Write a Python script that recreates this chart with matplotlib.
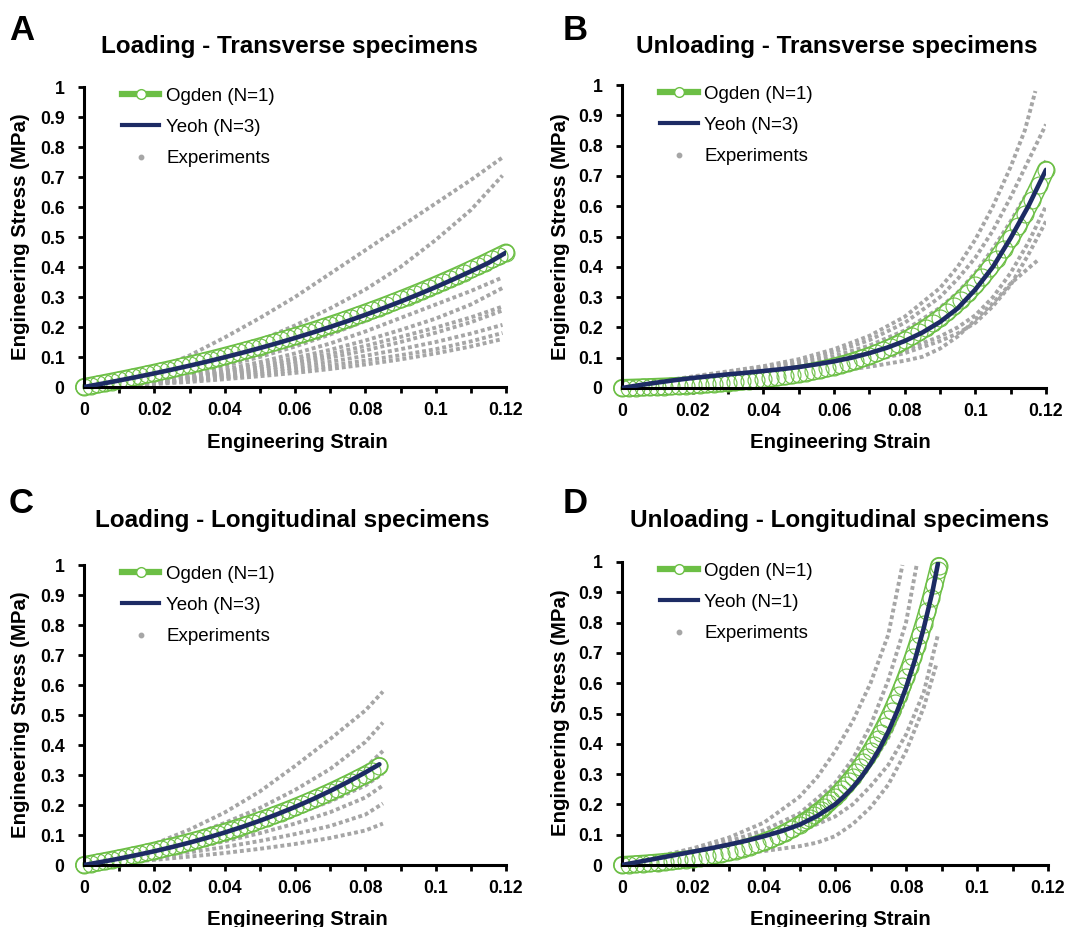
import matplotlib
matplotlib.use("Agg")
import matplotlib.pyplot as plt
from matplotlib.lines import Line2D

plt.rcParams['font.family'] = ['Liberation Sans', 'DejaVu Sans']

# ---------------- tick labels ----------------
x_major = [0, 0.02, 0.04, 0.06, 0.08, 0.10, 0.12]
x_major_labels = ['0', '0.02', '0.04', '0.06', '0.08', '0.1', '0.12']
x_minor = [0.01, 0.03, 0.05, 0.07, 0.09, 0.11]
y_major = [0, 0.1, 0.2, 0.3, 0.4, 0.5, 0.6, 0.7, 0.8, 0.9, 1.0]
y_major_labels = ['0', '0.1', '0.2', '0.3', '0.4', '0.5', '0.6', '0.7', '0.8', '0.9', '1']

titles = ['Loading - Transverse specimens', 'Unloading - Transverse specimens',
          'Loading - Longitudinal specimens', 'Unloading - Longitudinal specimens']
letters = ['A', 'B', 'C', 'D']
ogden_labels = ['Ogden (N=1)', 'Ogden (N=1)', 'Ogden (N=1)', 'Ogden (N=1)']
yeoh_labels = ['Yeoh (N=3)', 'Yeoh (N=3)', 'Yeoh (N=3)', 'Yeoh (N=1)']

# ---------------- Panel A: Loading - transverse ----------------
ogden_A_x = [0.000, 0.002, 0.004, 0.006, 0.008, 0.010, 0.012, 0.014, 0.016, 0.018,
             0.020, 0.022, 0.024, 0.026, 0.028, 0.030, 0.032, 0.034, 0.036, 0.038,
             0.040, 0.042, 0.044, 0.046, 0.048, 0.050, 0.052, 0.054, 0.056, 0.058,
             0.060, 0.062, 0.064, 0.066, 0.068, 0.070, 0.072, 0.074, 0.076, 0.078,
             0.080, 0.082, 0.084, 0.086, 0.088, 0.090, 0.092, 0.094, 0.096, 0.098,
             0.100, 0.102, 0.104, 0.106, 0.108, 0.110, 0.112, 0.114, 0.116, 0.118, 0.120]
ogden_A_y = [0.0000, 0.0044, 0.0089, 0.0135, 0.0181, 0.0228, 0.0276, 0.0325, 0.0374, 0.0424,
             0.0475, 0.0527, 0.0580, 0.0633, 0.0688, 0.0743, 0.0799, 0.0856, 0.0914, 0.0973,
             0.1034, 0.1095, 0.1157, 0.1220, 0.1285, 0.1350, 0.1417, 0.1484, 0.1553, 0.1623,
             0.1694, 0.1767, 0.1840, 0.1915, 0.1992, 0.2069, 0.2148, 0.2228, 0.2310, 0.2393,
             0.2477, 0.2562, 0.2650, 0.2738, 0.2828, 0.2920, 0.3013, 0.3107, 0.3203, 0.3301,
             0.3400, 0.3501, 0.3603, 0.3707, 0.3813, 0.3920, 0.4030, 0.4140, 0.4253, 0.4367, 0.4483]
yeoh_A_x = [0, 0.005, 0.01, 0.015, 0.02, 0.025, 0.03, 0.035, 0.04, 0.045, 0.05, 0.055, 0.06,
            0.065, 0.07, 0.075, 0.08, 0.085, 0.09, 0.095, 0.10, 0.105, 0.11, 0.115, 0.12]
yeoh_A_y = [0, 0.0107, 0.0218, 0.0334, 0.0454, 0.0579, 0.0710, 0.0847, 0.0991, 0.1141, 0.1298,
            0.1462, 0.1634, 0.1814, 0.2002, 0.2199, 0.2406, 0.2622, 0.2847, 0.3083, 0.3330,
            0.3588, 0.3856, 0.4137, 0.4480]
exp_A_x = [0, 0.01, 0.02, 0.03, 0.04, 0.05, 0.06, 0.07, 0.08, 0.09, 0.10, 0.11, 0.119]
exp_A1 = [0, 0.022, 0.058, 0.105, 0.165, 0.23, 0.30, 0.378, 0.456, 0.534, 0.612, 0.69, 0.765]
exp_A2 = [0, 0.015, 0.038, 0.07, 0.11, 0.155, 0.205, 0.262, 0.325, 0.40, 0.49, 0.59, 0.705]
exp_A3 = [0, 0.01, 0.025, 0.045, 0.07, 0.10, 0.135, 0.175, 0.22, 0.27, 0.32, 0.37, 0.415]
exp_A4 = [0, 0.008, 0.02, 0.037, 0.058, 0.083, 0.112, 0.145, 0.185, 0.23, 0.275, 0.32, 0.365]
exp_A5 = [0, 0.008, 0.019, 0.034, 0.052, 0.073, 0.097, 0.124, 0.155, 0.19, 0.228, 0.275, 0.33]
exp_A6 = [0, 0.007, 0.017, 0.03, 0.046, 0.065, 0.087, 0.11, 0.137, 0.167, 0.198, 0.232, 0.268]
exp_A7 = [0, 0.006, 0.015, 0.027, 0.041, 0.058, 0.077, 0.098, 0.122, 0.15, 0.181, 0.216, 0.255]
exp_A8 = [0, 0.006, 0.014, 0.024, 0.036, 0.05, 0.066, 0.084, 0.104, 0.126, 0.15, 0.178, 0.207]
exp_A9 = [0, 0.005, 0.012, 0.021, 0.031, 0.043, 0.056, 0.071, 0.088, 0.106, 0.126, 0.152, 0.18]
exp_A10 = [0, 0.004, 0.01, 0.017, 0.026, 0.036, 0.047, 0.06, 0.075, 0.092, 0.112, 0.135, 0.16]

# ---------------- Panel B: Unloading - transverse ----------------
ogden_B_x = ogden_A_x
ogden_B_y = [0.0000, 0.0007, 0.0014, 0.0021, 0.0030, 0.0039, 0.0048, 0.0058, 0.0069, 0.0081,
             0.0094, 0.0108, 0.0123, 0.0139, 0.0156, 0.0175, 0.0195, 0.0217, 0.0240, 0.0265,
             0.0292, 0.0321, 0.0352, 0.0386, 0.0422, 0.0461, 0.0503, 0.0548, 0.0597, 0.0649,
             0.0706, 0.0767, 0.0832, 0.0903, 0.0979, 0.1060, 0.1148, 0.1243, 0.1345, 0.1455,
             0.1574, 0.1701, 0.1838, 0.1986, 0.2145, 0.2317, 0.2501, 0.2700, 0.2914, 0.3144,
             0.3393, 0.3660, 0.3947, 0.4257, 0.4591, 0.4950, 0.5336, 0.5753, 0.6201, 0.6684, 0.7204]
yeoh_B_x = yeoh_A_x
yeoh_B_y = [0, 0.0095, 0.018, 0.026, 0.033, 0.039, 0.045, 0.050, 0.056, 0.062, 0.069, 0.078,
            0.088, 0.100, 0.115, 0.133, 0.155, 0.183, 0.218, 0.263, 0.325, 0.400, 0.495,
            0.600, 0.720]
exp_B_x = [0, 0.01, 0.02, 0.03, 0.04, 0.05, 0.06, 0.07, 0.08, 0.09, 0.095, 0.10, 0.105, 0.11, 0.115, 0.12]
exp_B1_x = [0, 0.01, 0.02, 0.03, 0.04, 0.05, 0.06, 0.07, 0.08, 0.09, 0.095, 0.10, 0.105, 0.11, 0.114, 0.117]
exp_B1 = [0, 0.02, 0.038, 0.055, 0.072, 0.095, 0.128, 0.172, 0.235, 0.33, 0.40, 0.49, 0.60, 0.73, 0.85, 0.98]
exp_B2 = [0, 0.019, 0.036, 0.052, 0.068, 0.088, 0.118, 0.158, 0.215, 0.30, 0.36, 0.43, 0.52, 0.63, 0.75, 0.87]
exp_B3 = [0, 0.018, 0.034, 0.048, 0.062, 0.08, 0.105, 0.14, 0.19, 0.265, 0.315, 0.38, 0.46, 0.55, 0.65, 0.75]
exp_B4 = [0, 0.015, 0.028, 0.038, 0.048, 0.06, 0.075, 0.095, 0.125, 0.17, 0.20, 0.24, 0.30, 0.38, 0.48, 0.60]
exp_B5 = [0, 0.014, 0.026, 0.036, 0.045, 0.056, 0.07, 0.088, 0.115, 0.155, 0.18, 0.215, 0.27, 0.34, 0.44, 0.55]
exp_B6_x = [0, 0.01, 0.02, 0.03, 0.04, 0.05, 0.06, 0.07, 0.08, 0.085, 0.09, 0.095, 0.10, 0.105, 0.11, 0.115, 0.118]
exp_B6 = [0, 0.01, 0.019, 0.027, 0.035, 0.044, 0.055, 0.07, 0.09, 0.103, 0.13, 0.17, 0.225, 0.28, 0.345, 0.395, 0.425]

# ---------------- Panel C: Loading - longitudinal ----------------
ogden_C_x = [0.000, 0.002, 0.004, 0.006, 0.008, 0.010, 0.012, 0.014, 0.016, 0.018,
             0.020, 0.022, 0.024, 0.026, 0.028, 0.030, 0.032, 0.034, 0.036, 0.038,
             0.040, 0.042, 0.044, 0.046, 0.048, 0.050, 0.052, 0.054, 0.056, 0.058,
             0.060, 0.062, 0.064, 0.066, 0.068, 0.070, 0.072, 0.074, 0.076, 0.078,
             0.080, 0.082, 0.084]
ogden_C_y = [0.0000, 0.0042, 0.0086, 0.0131, 0.0176, 0.0223, 0.0271, 0.0321, 0.0371, 0.0423,
             0.0477, 0.0532, 0.0588, 0.0646, 0.0706, 0.0768, 0.0831, 0.0896, 0.0963, 0.1032,
             0.1102, 0.1175, 0.1250, 0.1327, 0.1406, 0.1488, 0.1571, 0.1657, 0.1746, 0.1836,
             0.1930, 0.2025, 0.2124, 0.2225, 0.2329, 0.2435, 0.2545, 0.2657, 0.2772, 0.2890,
             0.3011, 0.3136, 0.3300]
yeoh_C_x = [0, 0.005, 0.01, 0.015, 0.02, 0.025, 0.03, 0.035, 0.04, 0.045, 0.05, 0.055, 0.06,
            0.065, 0.07, 0.075, 0.08, 0.084]
yeoh_C_y = [0, 0.0103, 0.0213, 0.0332, 0.0459, 0.0597, 0.0746, 0.0907, 0.1082, 0.1271, 0.1475,
            0.1696, 0.1934, 0.2191, 0.2468, 0.2766, 0.3085, 0.3357]
exp_C_x = [0, 0.01, 0.02, 0.03, 0.04, 0.05, 0.06, 0.07, 0.08, 0.085]
exp_C1 = [0, 0.03, 0.07, 0.118, 0.175, 0.245, 0.33, 0.42, 0.515, 0.578]
exp_C2 = [0, 0.027, 0.06, 0.097, 0.14, 0.19, 0.25, 0.32, 0.41, 0.475]
exp_C3 = [0, 0.022, 0.05, 0.082, 0.118, 0.158, 0.204, 0.258, 0.325, 0.38]
exp_C4 = [0, 0.019, 0.042, 0.068, 0.097, 0.13, 0.168, 0.212, 0.265, 0.305]
exp_C5 = [0, 0.016, 0.034, 0.055, 0.079, 0.106, 0.138, 0.176, 0.225, 0.265]
exp_C6 = [0, 0.012, 0.026, 0.042, 0.06, 0.08, 0.103, 0.13, 0.168, 0.205]
exp_C7 = [0, 0.008, 0.017, 0.028, 0.04, 0.054, 0.07, 0.09, 0.115, 0.138]

# ---------------- Panel D: Unloading - longitudinal ----------------
ogden_D_x = [0.000, 0.002, 0.004, 0.006, 0.008, 0.010, 0.012, 0.014, 0.016, 0.018,
             0.020, 0.022, 0.024, 0.026, 0.028, 0.030, 0.032, 0.034, 0.036, 0.038,
             0.040, 0.042, 0.044, 0.046, 0.048, 0.050, 0.051, 0.052, 0.053, 0.054,
             0.055, 0.056, 0.057, 0.058, 0.059, 0.060, 0.061, 0.062, 0.063, 0.064,
             0.065, 0.066, 0.067, 0.068, 0.069, 0.070, 0.071, 0.072, 0.073, 0.074,
             0.075, 0.076, 0.077, 0.078, 0.079, 0.080, 0.081, 0.082, 0.083, 0.084,
             0.085, 0.086, 0.087, 0.088, 0.089, 0.0893]
ogden_D_y = [0.0000, 0.0013, 0.0027, 0.0043, 0.0060, 0.0080, 0.0101, 0.0124, 0.0150, 0.0178,
             0.0209, 0.0244, 0.0282, 0.0324, 0.0370, 0.0421, 0.0477, 0.0539, 0.0608, 0.0683,
             0.0767, 0.0859, 0.0960, 0.1072, 0.1195, 0.1331, 0.1404, 0.1481, 0.1562, 0.1646,
             0.1735, 0.1829, 0.1927, 0.2030, 0.2138, 0.2252, 0.2371, 0.2497, 0.2629, 0.2767,
             0.2912, 0.3065, 0.3225, 0.3393, 0.3570, 0.3756, 0.3951, 0.4155, 0.4370, 0.4596,
             0.4833, 0.5082, 0.5344, 0.5619, 0.5907, 0.6210, 0.6528, 0.6862, 0.7213, 0.7582,
             0.7969, 0.8375, 0.8802, 0.9251, 0.9721, 0.9870]
yeoh_D_x = [0, 0.005, 0.01, 0.015, 0.02, 0.025, 0.03, 0.035, 0.04, 0.045, 0.05, 0.055, 0.06,
            0.0625, 0.065, 0.0675, 0.07, 0.0725, 0.075, 0.0775, 0.08, 0.0825, 0.085, 0.0875, 0.089]
yeoh_D_y = [0, 0.011, 0.022, 0.033, 0.044, 0.055, 0.067, 0.080, 0.095, 0.112, 0.133, 0.162,
            0.200, 0.226, 0.256, 0.292, 0.334, 0.383, 0.440, 0.507, 0.585, 0.676, 0.782,
            0.905, 0.995]
exp_D1_x = [0, 0.01, 0.02, 0.03, 0.04, 0.05, 0.055, 0.06, 0.065, 0.07, 0.075, 0.079]
exp_D1 = [0, 0.028, 0.055, 0.09, 0.14, 0.225, 0.29, 0.375, 0.475, 0.60, 0.76, 0.99]
exp_D2_x = [0, 0.01, 0.02, 0.03, 0.04, 0.05, 0.06, 0.065, 0.07, 0.075, 0.08, 0.083]
exp_D2 = [0, 0.025, 0.05, 0.078, 0.115, 0.17, 0.27, 0.35, 0.46, 0.61, 0.80, 0.99]
exp_D3_x = [0, 0.01, 0.02, 0.03, 0.04, 0.05, 0.06, 0.065, 0.07, 0.075, 0.08, 0.085, 0.088]
exp_D3 = [0, 0.022, 0.045, 0.07, 0.10, 0.14, 0.21, 0.26, 0.33, 0.42, 0.55, 0.74, 0.92]
exp_D4_x = [0, 0.01, 0.02, 0.03, 0.04, 0.05, 0.06, 0.065, 0.07, 0.075, 0.08, 0.085, 0.089]
exp_D4 = [0, 0.02, 0.038, 0.055, 0.078, 0.11, 0.16, 0.20, 0.26, 0.33, 0.43, 0.57, 0.76]
exp_D5_x = [0, 0.01, 0.02, 0.03, 0.04, 0.05, 0.055, 0.06, 0.065, 0.07, 0.075, 0.08, 0.085, 0.0885]
exp_D5 = [0, 0.012, 0.023, 0.034, 0.046, 0.062, 0.074, 0.095, 0.135, 0.19, 0.265, 0.375, 0.52, 0.66]

panels = [
    dict(ogden=(ogden_A_x, ogden_A_y), yeoh=(yeoh_A_x, yeoh_A_y),
         exps=[(exp_A_x, c) for c in [exp_A1, exp_A2, exp_A3, exp_A4, exp_A5, exp_A6,
                                      exp_A7, exp_A8, exp_A9, exp_A10]]),
    dict(ogden=(ogden_B_x, ogden_B_y), yeoh=(yeoh_B_x, yeoh_B_y),
         exps=[(exp_B1_x, exp_B1), (exp_B_x, exp_B2), (exp_B_x, exp_B3), (exp_B_x, exp_B4),
               (exp_B_x, exp_B5), (exp_B6_x, exp_B6)]),
    dict(ogden=(ogden_C_x, ogden_C_y), yeoh=(yeoh_C_x, yeoh_C_y),
         exps=[(exp_C_x, c) for c in [exp_C1, exp_C2, exp_C3, exp_C4, exp_C5, exp_C6, exp_C7]]),
    dict(ogden=(ogden_D_x, ogden_D_y), yeoh=(yeoh_D_x, yeoh_D_y),
         exps=[(exp_D1_x, exp_D1), (exp_D2_x, exp_D2), (exp_D3_x, exp_D3),
               (exp_D4_x, exp_D4), (exp_D5_x, exp_D5)]),
]

# ---------------- styling / layout ----------------
W, H = 1067, 927
GREEN = '#6cbf45'
NAVY = '#1d2b64'
GRAY = '#a6a6a6'

fig = plt.figure(figsize=(W / 100, H / 100), dpi=100)

# axes boxes in pixels: (left, top, right, bottom)
boxes = [(84, 87, 506, 387), (622, 85, 1046, 388), (84, 565, 506, 865), (622, 562, 1048, 865)]
title_pos = [(289, 53), (837, 53), (292, 527), (840, 527)]
letter_pos = [(9, 40), (563, 40), (9, 513), (563, 513)]
xlabel_pos = [(297, 448), (840, 448), (297, 925), (840, 925)]
ylabel_pos = [(21, 237), (560, 237), (21, 715), (560, 713)]

for i, p in enumerate(panels):
    l, t, r, b = boxes[i]
    ax = fig.add_axes([l / W, 1 - b / H, (r - l) / W, (b - t) / H])
    ax.set_xlim(0, 0.12)
    ax.set_ylim(0, 1)
    for sp in ['top', 'right']:
        ax.spines[sp].set_visible(False)
    for sp in ['left', 'bottom']:
        ax.spines[sp].set_linewidth(2.2)
    ax.set_xticks(x_major)
    ax.set_xticklabels(x_major_labels, fontsize=12.7, fontweight='bold')
    ax.set_xticks(x_minor, minor=True)
    ax.set_yticks(y_major)
    ax.set_yticklabels(y_major_labels, fontsize=12.7, fontweight='bold')
    ax.tick_params(which='both', direction='out', length=4.5, width=2.0)
    ax.tick_params(axis='x', which='both', pad=6)
    ax.tick_params(axis='y', which='both', pad=9.5)

    for ex, ey in p['exps']:
        ax.plot(ex, ey, color=GRAY, lw=2.8, ls=(0, (1.0, 0.75)), zorder=1,
                dash_capstyle='butt')
    ox, oy = p['ogden']
    # green-edged white band, then the chain of open circles on it
    ax.plot(ox, oy, color=GREEN, lw=13.0, zorder=2, solid_capstyle='round', clip_on=False)
    ax.plot(ox, oy, color='white', lw=10.8, zorder=2.1, solid_capstyle='round', clip_on=False)
    ax.plot(ox, oy, ls='none', marker='o', ms=12.2, mfc='none', mec=GREEN, mew=0.8,
            zorder=2.5, clip_on=False)
    yx, yy = p['yeoh']
    ax.plot(yx, yy, color=NAVY, lw=3.3, zorder=3, solid_capstyle='round')

    handles = [Line2D([], [], color=GREEN, lw=4.5, marker='o', ms=7, mfc='white',
                      mec=GREEN, mew=1.0),
               Line2D([], [], color=NAVY, lw=3.0),
               Line2D([], [], ls='none', marker='o', ms=3.2, color=GRAY)]
    ax.legend(handles, [ogden_labels[i], yeoh_labels[i], 'Experiments'],
              loc='upper left', bbox_to_anchor=(0.09, 0.998), frameon=False,
              fontsize=13.5, handlelength=2.0, handletextpad=0.35, labelspacing=0.75,
              borderaxespad=0, borderpad=0, numpoints=1)

    tx, ty = title_pos[i]
    fig.text(tx / W, 1 - ty / H, titles[i], ha='center', va='baseline',
             fontsize=17.5, fontweight='bold')
    lx, ly = letter_pos[i]
    fig.text(lx / W, 1 - ly / H, letters[i], ha='left', va='baseline',
             fontsize=25, fontweight='bold')
    xx, xy = xlabel_pos[i]
    fig.text(xx / W, 1 - xy / H, 'Engineering Strain', ha='center', va='baseline',
             fontsize=14.7, fontweight='bold')
    yx_, yy_ = ylabel_pos[i]
    fig.text(yx_ / W, 1 - yy_ / H, 'Engineering Stress (MPa)', ha='center', va='center',
             rotation=90, fontsize=14.7, fontweight='bold')

fig.savefig('out.png', dpi=100)
